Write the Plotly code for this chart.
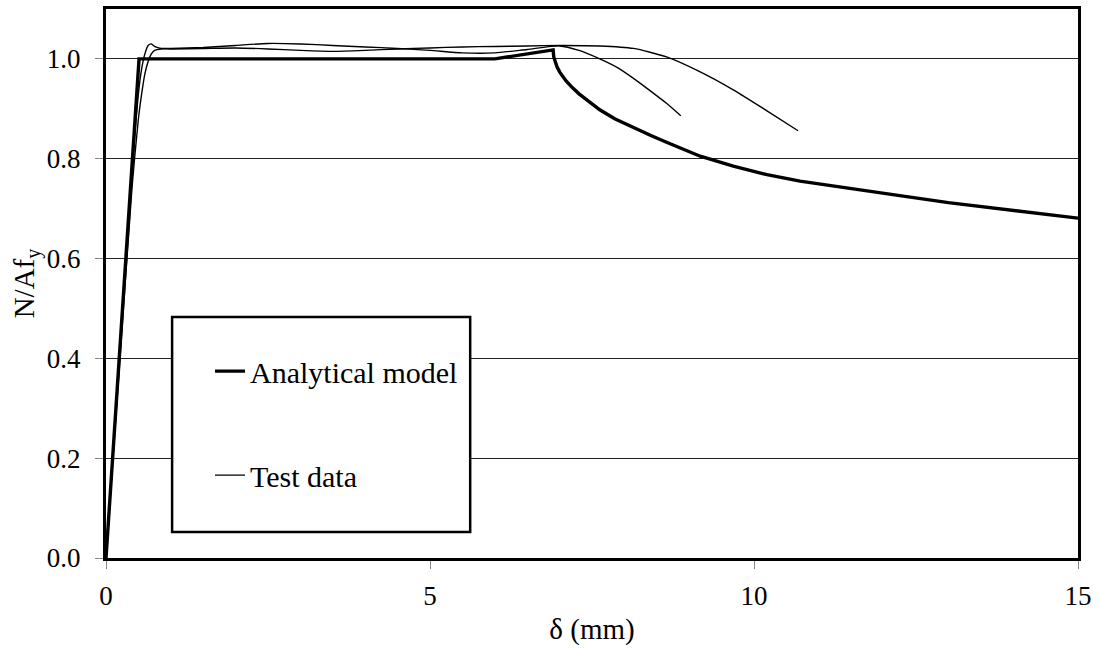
import plotly.graph_objects as go

# Analytical model
model_x = [0, 0.51, 6.0, 6.9, 6.91, 6.93, 6.96, 7.0, 7.1, 7.2, 7.3, 7.45, 7.62, 7.85, 8.14, 8.4,
           8.65, 8.9, 9.17, 9.68, 10.2, 10.71, 11.22, 11.74, 12.25, 13.0, 14.0, 15.0]
model_y = [0, 1.0, 1.0, 1.018, 1.004, 0.994, 0.984, 0.974, 0.956, 0.942, 0.930, 0.915, 0.898,
           0.880, 0.862, 0.847, 0.833, 0.819, 0.805, 0.785, 0.768, 0.755, 0.745, 0.735, 0.726,
           0.712, 0.696, 0.681]

# Test data, specimen A
testA_x = [0, 0.2, 0.4, 0.5, 0.55, 0.6, 0.65, 0.7, 0.75, 0.85, 1.0, 1.5, 2.0, 2.5, 3.0, 3.5,
           4.0, 4.5, 5.0, 5.5, 6.0, 6.5, 7.0, 7.3, 7.62, 7.9, 8.14, 8.4, 8.65, 8.87]
testA_y = [0, 0.38, 0.77, 0.93, 0.98, 1.01, 1.027, 1.030, 1.025, 1.021, 1.021, 1.023, 1.027,
           1.031, 1.030, 1.027, 1.024, 1.021, 1.017, 1.012, 1.012, 1.019, 1.026, 1.017, 1.0,
           0.982, 0.961, 0.936, 0.911, 0.886]

# Test data, specimen B
testB_x = [0, 0.2, 0.4, 0.5, 0.55, 0.6, 0.65, 0.7, 0.75, 0.85, 1.0, 1.5, 2.0, 2.5, 3.0, 3.5,
           4.0, 4.5, 5.0, 5.5, 6.0, 6.5, 7.0, 7.62, 8.14, 8.65, 9.17, 9.68, 10.2, 10.68]
testB_y = [0, 0.37, 0.74, 0.88, 0.93, 0.97, 0.995, 1.01, 1.017, 1.02, 1.02, 1.021, 1.022, 1.02,
           1.017, 1.015, 1.017, 1.02, 1.022, 1.024, 1.025, 1.026, 1.027, 1.026, 1.021, 1.004,
           0.974, 0.938, 0.896, 0.856]

x_ticks = [0, 5, 10, 15]
y_ticks = [0.0, 0.2, 0.4, 0.6, 0.8, 1.0]

FONT = "Liberation Serif, Times New Roman, serif"

fig = go.Figure()
fig.add_trace(go.Scatter(x=model_x, y=model_y, mode="lines", name="Analytical model",
                         line=dict(color="black", width=3.4), legendgroup="m"))
fig.add_trace(go.Scatter(x=testA_x, y=testA_y, mode="lines", name="Test data",
                         line=dict(color="black", width=1.4, shape="spline", smoothing=0.6),
                         legendgroup="t"))
fig.add_trace(go.Scatter(x=testB_x, y=testB_y, mode="lines", name="Test data",
                         line=dict(color="black", width=1.4, shape="spline", smoothing=0.6),
                         legendgroup="t", showlegend=False))

# legend frame
fig.add_shape(type="rect", xref="x", yref="y", x0=1.02, x1=5.62, y0=0.052, y1=0.483,
              line=dict(color="black", width=2.5), fillcolor="white", layer="above")

fig.update_layout(
    width=1099, height=650,
    margin=dict(l=106, r=21, t=6, b=92),
    paper_bgcolor="white", plot_bgcolor="white",
    font=dict(family=FONT, size=27, color="black"),
    showlegend=True,
    legend=dict(x=(210 - 106) / 972, y=(558 - 344) / 552, xanchor="left", yanchor="top",
                bgcolor="rgba(0,0,0,0)", borderwidth=0, tracegroupgap=62,
                font=dict(family=FONT, size=30, color="black")),
    xaxis=dict(range=[0, 15], tickvals=x_ticks, ticks="outside", ticklen=8, tickcolor="#888",
               tickwidth=1, showline=True, linecolor="black", linewidth=3, mirror=True,
               showgrid=False, zeroline=False, ticklabelstandoff=4,
               title=dict(text="δ (mm)", font=dict(family=FONT, size=29), standoff=9),
               tickfont=dict(family=FONT, size=27)),
    yaxis=dict(range=[0, 1.1], tickvals=y_ticks, tickformat=".1f", ticks="outside", ticklen=8,
               tickcolor="#888", tickwidth=1, showline=True, linecolor="black", linewidth=3,
               mirror=True, showgrid=True, gridcolor="#222", gridwidth=1, zeroline=False,
               ticklabelstandoff=9,
               title=dict(text="N/Af<sub>y</sub>", font=dict(family=FONT, size=29), standoff=4),
               tickfont=dict(family=FONT, size=27)),
)

fig.write_html("out.html")
